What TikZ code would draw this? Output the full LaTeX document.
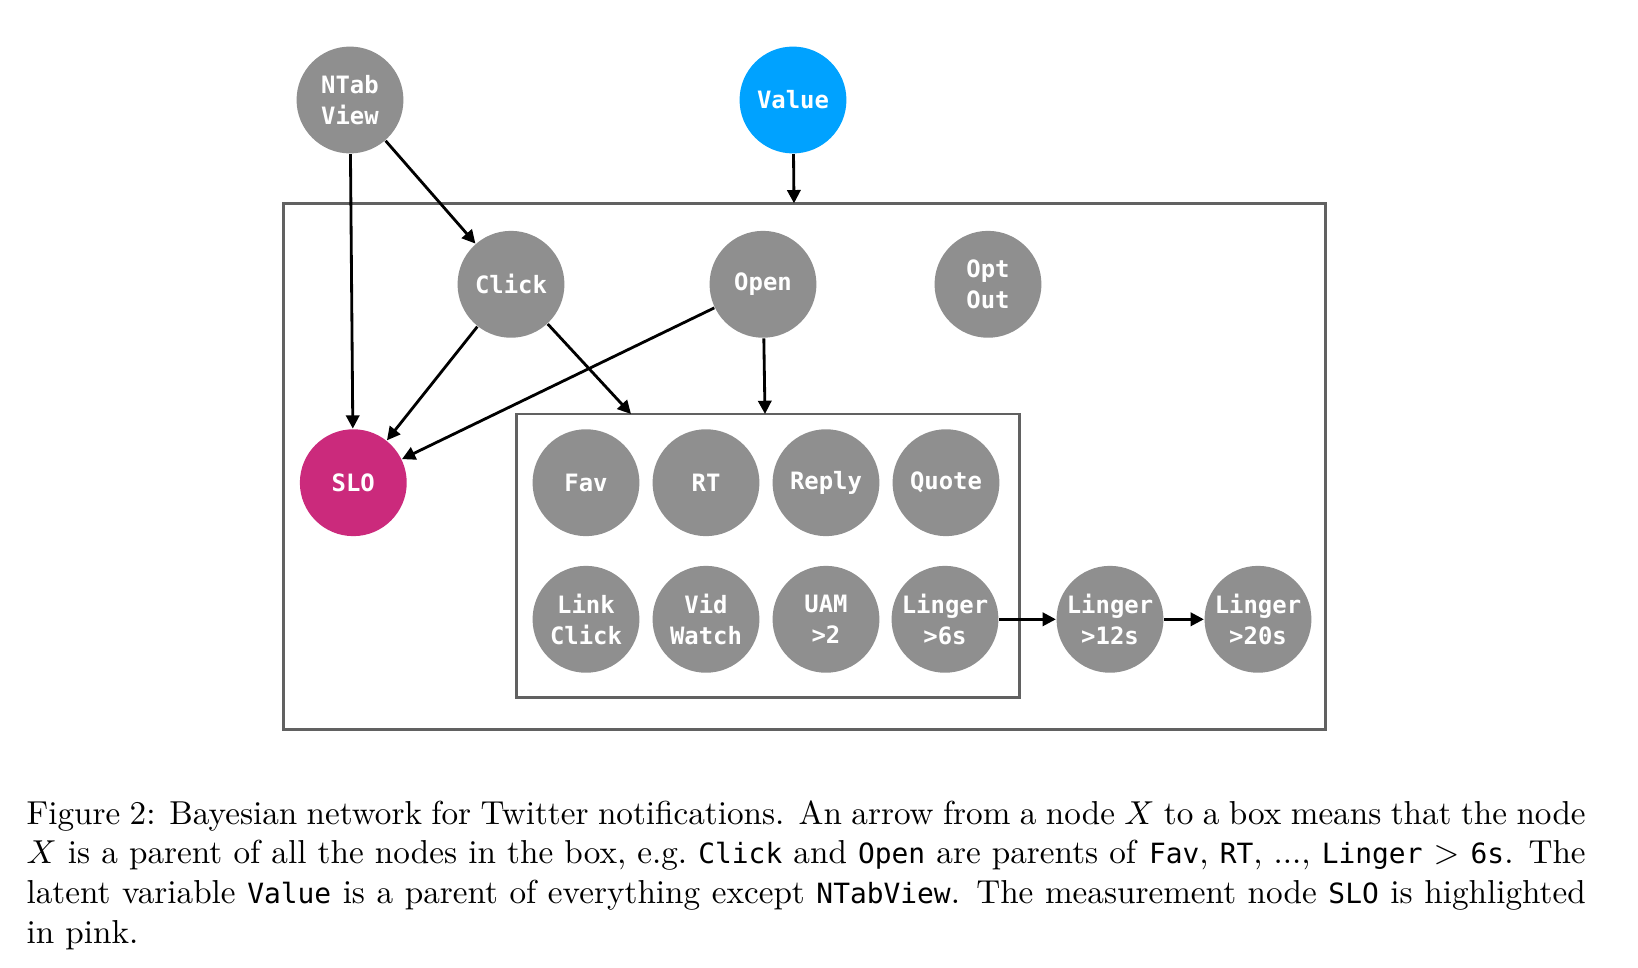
\documentclass[tikz,border=0pt]{standalone}
\usepackage{fontspec}
\setmonofont{DejaVu Sans Mono}[Scale=0.84]
\newfontfamily\varfont{DejaVu Sans Mono}
\usetikzlibrary{arrows.meta}

\begin{document}
\begin{tikzpicture}[x=0.010593cm, y=-0.010593cm,
    var/.style={circle, fill=C_var, minimum size=32.2pt, inner sep=0pt, align=center, text=white,
        font=\varfont\bfseries\fontsize{7.2}{9.5}\selectfont},
    plate/.style={draw=C_plate, line width=0.8pt},
    edge/.style={draw=black, line width=0.85pt, -{Triangle[length=4pt, width=4pt]}}]
    \definecolor{C_var}{HTML}{8F8F8F}
    \definecolor{C_value}{HTML}{00A2FF}
    \definecolor{C_slo}{HTML}{CB2A7C}
    \definecolor{C_plate}{HTML}{616161}

    \useasboundingbox (0,0) rectangle (1638,968);

    % plates
    \coordinate (outer_nw) at (283.3,203.3);
    \coordinate (outer_se) at (1325.7,729.2);
    \coordinate (inner_nw) at (516.7,414);
    \coordinate (inner_se) at (1019.7,697.7);
    \path[plate] (outer_nw) rectangle (outer_se);
    \path[plate] (inner_nw) rectangle (inner_se);

    % variables
    \node[var] (ntab) at (350,100) {NTab\\View};
    \node[var, fill=C_value] (value) at (793,100) {Value};
    \node[var] (click) at (511,284.3) {Click};
    \node[var] (open) at (763,284.3) {Open};
    \node[var] (optout) at (988,284.3) {Opt\\Out};
    \node[var, fill=C_slo] (slo) at (353.3,482.7) {SLO};

    \node[var] (fav) at (586,482.7) {Fav};
    \node[var] (rt) at (706,482.7) {RT};
    \node[var] (reply) at (826,482.7) {Reply};
    \node[var] (quote) at (946,482.7) {Quote};
    \node[var] (linkclick) at (586,619.3) {Link\\Click};
    \node[var] (vidwatch) at (706,619.3) {Vid\\Watch};
    \node[var] (uam) at (826,619.3) {UAM\\>2};
    \node[var] (linger_6) at (945,619.3) {Linger\\>6s};
    \node[var] (linger_12) at (1110,619.3) {Linger\\>12s};
    \node[var] (linger_20) at (1258,619.3) {Linger\\>20s};

    % box targets
    \coordinate (value_target) at (794,203.3);
    \coordinate (click_target) at (631,414);
    \coordinate (open_target) at (765,414);

    % edges
    \path[edge] (ntab) -- (slo);
    \path[edge] (ntab) -- (click);
    \path[edge] (value) -- (value_target);
    \path[edge] (click) -- (slo);
    \path[edge] (click) -- (click_target);
    \path[edge] (open) -- (slo);
    \path[edge] (open) -- (open_target);
    \path[edge] (linger_6) -- (linger_12);
    \path[edge] (linger_12) -- (linger_20);

    % caption
    \node[anchor=base west, inner sep=0pt, text width=469.75pt, align=justify] (caption) at (26,824) {%
        Figure 2: Bayesian network for Twitter notifications. An arrow from a node $X$ to a box means that the node\linebreak
        $X$ is a parent of all the nodes in the box, e.g.\ \texttt{Click} and \texttt{Open} are parents of \texttt{Fav}, \texttt{RT}, ..., \texttt{Linger} $>$ \texttt{6s}. The\linebreak
        latent variable \texttt{Value} is a parent of everything except \texttt{NTabView}. The measurement node \texttt{SLO} is highlighted\linebreak
        in pink.};

\end{tikzpicture}
\end{document}
